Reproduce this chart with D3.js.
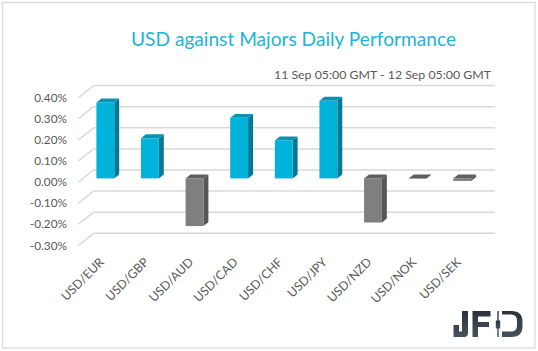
<!DOCTYPE html>
<html><head><meta charset="utf-8">
<script src="https://cdn.jsdelivr.net/npm/d3@7"></script>
<style>body{margin:0;background:#fff}svg{display:block}</style>
</head><body>
<svg id="c" width="538" height="351"></svg>
<script>
const categories = ["USD/EUR","USD/GBP","USD/AUD","USD/CAD","USD/CHF","USD/JPY","USD/NZD","USD/NOK","USD/SEK"];
const values = [0.36, 0.19, -0.226, 0.287, 0.18, 0.368, -0.209, -0.001, -0.012];
const tickValues = [-0.3,-0.2,-0.1,0,0.1,0.2,0.3,0.4];
const tickLabels = ["-0.30%","-0.20%","-0.10%","0.00%","0.10%","0.20%","0.30%","0.40%"];
const titleText = "USD against Majors Daily Performance";
const subtitleText = "11 Sep 05:00 GMT - 12 Sep 05:00 GMT";

const svg = d3.select("#c");
const DX = 15, DY = -12; // depth projection
const x = d3.scaleBand().domain(categories).range([78.5, 480]).padding(0);
const y = d3.scaleLinear().domain([-0.3, 0.4]).range([245.3, 97.6]);
const z0 = 0.3, z1 = 0.63;
const bw = x.bandwidth() * 0.4;

svg.append("rect").attr("x",2.5).attr("y",2.5).attr("width",532.5).attr("height",345.5)
  .attr("fill","#fff").attr("stroke","#d9d9d9").attr("stroke-width",1.2);

// gridlines
const g = svg.append("g").attr("stroke","#d9d9d9").attr("stroke-width",1.5).attr("fill","none");
tickValues.forEach(v => {
  const yy = y(v);
  g.append("line").attr("x1",x.range()[0]).attr("y1",yy).attr("x2",x.range()[0]+DX).attr("y2",yy+DY);
  g.append("line").attr("x1",x.range()[0]+DX).attr("y1",yy+DY).attr("x2",x.range()[1]+DX).attr("y2",yy+DY);
});

// tick labels
svg.append("g").selectAll("text").data(tickValues).join("text")
  .attr("x",67).attr("y",d=>y(d)+4.2).attr("text-anchor","end")
  .attr("font-family","Lato, 'Open Sans', sans-serif").attr("font-size",11.8).attr("fill","#595959")
  .text((d,i)=>tickLabels[i]);

// bars
const pal = {
  pos:{front:"#00b3da", side:"#007a92", top:"#0a92b0"},
  neg:{front:"#7f7f7f", side:"#565656", top:"#5e5e5e"}
};
const bars = svg.append("g");
categories.forEach((c,i)=>{
  const v = values[i];
  const p = v >= 0 ? pal.pos : pal.neg;
  const xl = x(c) + (x.bandwidth()-bw)/2 + z0*DX;
  const xr = xl + bw;
  const yt = y(Math.max(v,0)) + z0*DY;
  const yb = y(Math.min(v,0)) + z0*DY;
  const ddx = (z1-z0)*DX, ddy = (z1-z0)*DY;
  const gg = bars.append("g");
  gg.append("path").attr("d",`M${xr},${yt}L${xr+ddx},${yt+ddy}L${xr+ddx},${yb+ddy}L${xr},${yb}Z`).attr("fill",p.side);
  gg.append("path").attr("d",`M${xl},${yt}L${xl+ddx},${yt+ddy}L${xr+ddx},${yt+ddy}L${xr},${yt}Z`).attr("fill",p.top);
  gg.append("rect").attr("x",xl).attr("y",yt).attr("width",bw).attr("height",Math.max(yb-yt,0)).attr("fill",p.front);
});

// x labels
svg.append("g").selectAll("text").data(categories).join("text")
  .attr("transform",d=>`translate(${x(d)+x.bandwidth()/2+4},${263}) rotate(-45)`)
  .attr("text-anchor","end")
  .attr("font-family","Lato, 'Open Sans', sans-serif").attr("font-size",12.3).attr("fill","#595959")
  .text(d=>d);

// title
svg.append("text").attr("x",131).attr("y",46).attr("font-family","Lato, 'Open Sans', sans-serif")
  .attr("font-size",19).attr("fill","#1cb3dc").attr("textLength",325).attr("lengthAdjust","spacingAndGlyphs")
  .text(titleText);
svg.append("text").attr("x",274).attr("y",79).attr("font-family","Lato, 'Open Sans', sans-serif")
  .attr("font-size",12.2).attr("fill","#595959").attr("textLength",217).attr("lengthAdjust","spacingAndGlyphs")
  .text(subtitleText);

// JFD logo
const defs = svg.append("defs");
const lg = defs.append("linearGradient").attr("id","lg").attr("x1",0).attr("y1",0).attr("x2",0).attr("y2",1);
lg.append("stop").attr("offset",0).attr("stop-color","#2a313b");
lg.append("stop").attr("offset",1).attr("stop-color","#48525e");
const L = svg.append("g").attr("fill","url(#lg)");
const lt = 311, lb = 337, th = 5.5;
// J
L.append("path").attr("d",`M462,${lt}h6v${lb-lt-4}q0,4 -4,4h-10.5v-12h5.5v6.5h3Z`);
// F
L.append("path").attr("d",`M472.5,${lt}h18v${th}h-12.5v5.5h11v5h-11v${lb-lt-th-5.5-5}h-5.5Z`);
// candle
L.append("rect").attr("x",497.3).attr("y",lt).attr("width",1.4).attr("height",lb-lt);
L.append("rect").attr("x",495.8).attr("y",320.5).attr("width",4.4).attr("height",8);
// D
L.append("path").attr("d",`M502,${lt}h9.5q11,0 11,11v4q0,11 -11,11h-9.5v-${th}h9q6,0 6,-6v-5q0,-6 -6,-6h-9Z`);
</script>
</body></html>
